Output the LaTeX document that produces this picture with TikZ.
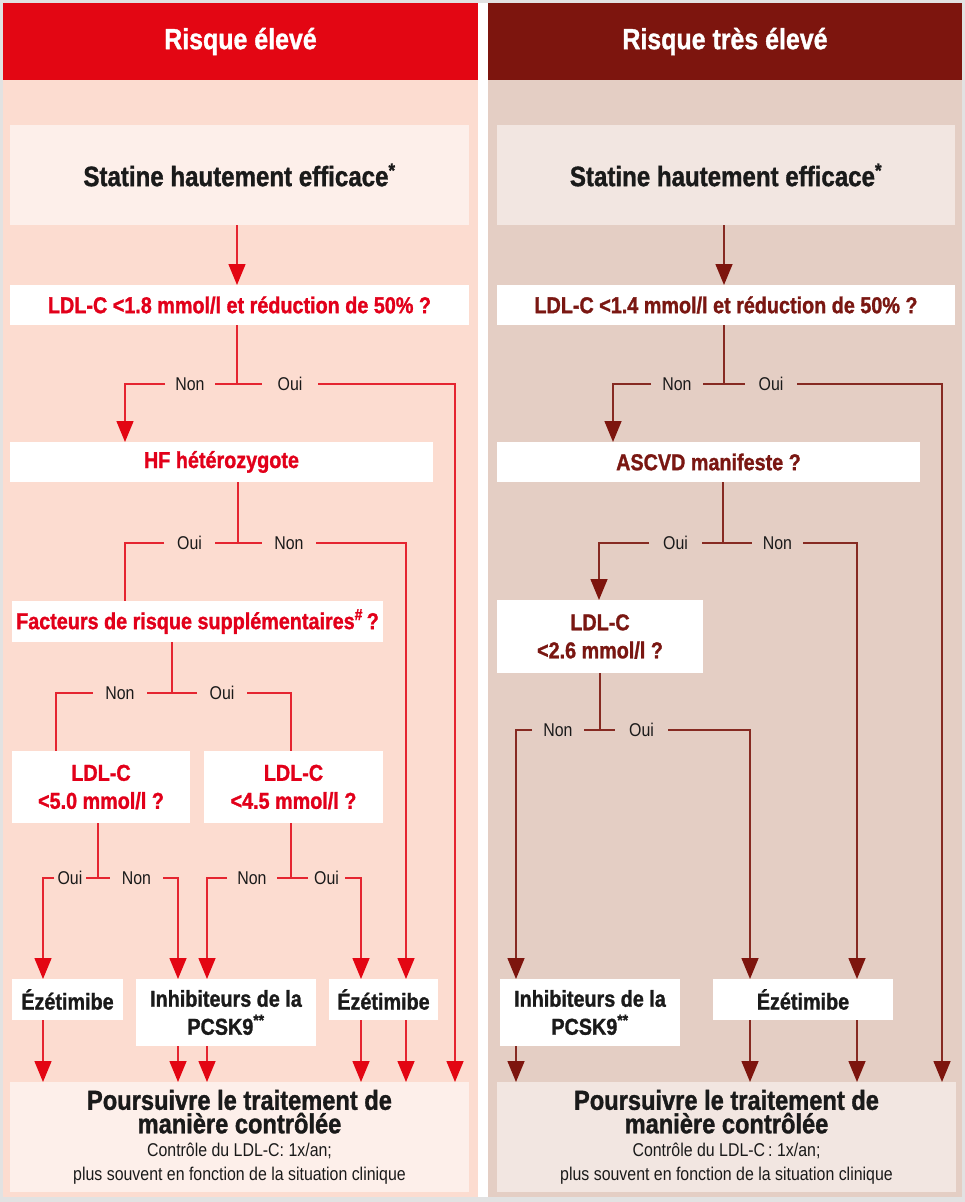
\documentclass[tikz,border=0pt]{standalone}
\usepackage{fontspec}
\setmainfont{Liberation Sans}[FakeStretch=0.86,BoldFeatures={FakeBold=1.2}]
\usetikzlibrary{arrows.meta,calc}
\definecolor{bgGray}{HTML}{E2E2E2}
\definecolor{peach}{HTML}{FCDCD0}
\definecolor{rose}{HTML}{E4CEC4}
\definecolor{lightL}{HTML}{FDEFEA}
\definecolor{lightR}{HTML}{F2E6E1}
\definecolor{redH}{HTML}{E30613}
\definecolor{darkH}{HTML}{7D150E}
\definecolor{redT}{HTML}{E2001A}
\definecolor{darkT}{HTML}{7A1712}
\definecolor{lineL}{HTML}{E52530}
\definecolor{lineR}{HTML}{862A22}
\definecolor{txt}{HTML}{1A1A1A}
\begin{document}
\begin{tikzpicture}[x=1pt,y=-1pt,
  box/.style={rectangle,inner sep=0pt,outer sep=0pt,fill=white,align=center},
  qL/.style={box,text=redT,font=\fontsize{23}{28}\selectfont\bfseries},
  qR/.style={box,text=darkT,font=\fontsize{23}{28}\selectfont\bfseries},
  tb/.style={box,text=txt,font=\fontsize{23}{28}\selectfont\bfseries},
  hdr/.style={rectangle,inner sep=0pt,outer sep=0pt,minimum width=475pt,minimum height=77pt,text=white,font=\fontsize{29}{32}\selectfont\bfseries},
  stat/.style={box,text=txt,minimum width=459pt,minimum height=100pt,font=\fontsize{28}{30}\selectfont\bfseries},
  endb/.style={box,text=txt,minimum width=459pt,minimum height=110pt,font=\fontsize{27.5}{23.5}\selectfont},
  lbl/.style={inner sep=0pt,outer sep=0pt,minimum width=#1,text height=13pt,text depth=0pt,text=txt,font=\fontsize{18.5}{20}\selectfont},
  lnL/.style={draw=lineL,line width=1.5pt},
  lnR/.style={draw=lineR,line width=1.5pt},
  arL/.style={lnL,-{Triangle[width=17pt,length=21pt,color=redH]}},
  arR/.style={lnR,-{Triangle[width=17pt,length=21pt,color=darkH]}}
]
\useasboundingbox (0,0) rectangle (965,1202);
% backgrounds
\fill[bgGray] (0,0) rectangle (965,1202);
\fill[white] (478,3) rectangle (488,1197);
\fill[peach] (3,3) rectangle (478,1197);
\fill[rose] (488,3) rectangle (962,1197);
\node[hdr,fill=redH] (hL) at (240.5,41.5) {Risque élevé};
\node[hdr,fill=darkH,minimum width=474pt] (hR) at (725,41.5) {Risque très élevé};

% ---------------- left column ----------------
\node[stat,fill=lightL] (statL) at (239.5,175) {Statine hautement efficace\textsuperscript{*}};
\node[qL,minimum width=459pt,minimum height=40pt] (q1L) at (239.5,305) {LDL-C <1.8 mmol/l et réduction de 50\% ?};
\node[qL,minimum width=423pt,minimum height=40pt] (hfL) at (221.5,462) {HF hétérozygote};
\node[qL,minimum width=371pt,minimum height=41pt] (facL) at (197.5,621.5) {Facteurs de risque supplémentaires\textsuperscript{\#}\,?};
\node[qL,minimum width=178pt,minimum height=72pt] (ldl5) at (101,787) {LDL-C\\<5.0 mmol/l ?};
\node[qL,minimum width=179pt,minimum height=72pt] (ldl45) at (293.5,787) {LDL-C\\<4.5 mmol/l ?};
\node[tb,minimum width=111pt,minimum height=41pt] (ez1) at (67.5,999.5) {Ézétimibe};
\node[tb,minimum width=180pt,minimum height=67pt] (inhL) at (226,1012.5) {Inhibiteurs de la\\PCSK9\textsuperscript{**}};
\node[tb,minimum width=109pt,minimum height=41pt] (ez2) at (383.5,999.5) {Ézétimibe};
\node[endb,fill=lightL] (endL) at (239.5,1137) {\bfseries Poursuivre le traitement de\\\bfseries manière contrôlée\\\mdseries\fontsize{18.5}{23}\selectfont Contrôle du LDL-C: 1x/an;\\\mdseries\fontsize{18.5}{23}\selectfont plus souvent en fonction de la situation clinique};

% junctions and columns (left)
\coordinate (j1) at (237,384);
\coordinate (j2) at (238,543);
\coordinate (j3) at (172,693);
\coordinate (j4) at (98,878);
\coordinate (j5) at (291,878);
\coordinate (xa) at (125,0);
\coordinate (xg) at (455,0);
\coordinate (xf) at (406,0);
\coordinate (xb) at (56,0);
\coordinate (xc) at (291,0);
\coordinate (xd) at (43,0);
\coordinate (xe) at (178,0);
\coordinate (xh) at (207,0);
\coordinate (xi) at (361,0);

\node[lbl=50pt] (nonA) at (190,384) {Non};
\node[lbl=56pt] (ouiA) at (290,384) {Oui};
\node[lbl=51pt] (ouiB) at (189.5,543) {Oui};
\node[lbl=54pt] (nonB) at (289,543) {Non};
\node[lbl=54pt] (nonC) at (120,693) {Non};
\node[lbl=50pt] (ouiC) at (222,693) {Oui};
\node[lbl=32pt] (ouiD) at (70,878) {Oui};
\node[lbl=53pt] (nonD) at (136.5,878) {Non};
\node[lbl=50pt] (nonE) at (252,878) {Non};
\node[lbl=37pt] (ouiE) at (326.5,878) {Oui};

\draw[arL] (statL.south -| j1) -- (q1L.north -| j1);
\draw[lnL] (q1L.south -| j1) -- (j1);
\draw[lnL] (nonA.east) -- (j1) -- (ouiA.west);
\draw[arL] (nonA.west) -| (hfL.north -| xa);
\draw[arL] (ouiA.east) -| (endL.north -| xg);

\draw[lnL] (hfL.south -| j2) -- (j2);
\draw[lnL] (ouiB.east) -- (j2) -- (nonB.west);
\draw[lnL] (ouiB.west) -| (facL.north -| xa);
\draw[arL] (nonB.east) -| (ez2.north -| xf);

\draw[lnL] (facL.south -| j3) -- (j3);
\draw[lnL] (nonC.east) -- (j3) -- (ouiC.west);
\draw[lnL] (nonC.west) -| (ldl5.north -| xb);
\draw[lnL] (ouiC.east) -| (ldl45.north -| xc);

\draw[lnL] (ldl5.south -| j4) -- (j4);
\draw[lnL] (ouiD.east) -- (j4) -- (nonD.west);
\draw[arL] (ouiD.west) -| (ez1.north -| xd);
\draw[arL] (nonD.east) -| (inhL.north -| xe);

\draw[lnL] (ldl45.south -| j5) -- (j5);
\draw[lnL] (nonE.east) -- (j5) -- (ouiE.west);
\draw[arL] (nonE.west) -| (inhL.north -| xh);
\draw[arL] (ouiE.east) -| (ez2.north -| xi);

\draw[arL] (ez1.south -| xd) -- (endL.north -| xd);
\draw[arL] (inhL.south -| xe) -- (endL.north -| xe);
\draw[arL] (inhL.south -| xh) -- (endL.north -| xh);
\draw[arL] (ez2.south -| xi) -- (endL.north -| xi);
\draw[arL] (ez2.south -| xf) -- (endL.north -| xf);

% ---------------- right column ----------------
\node[stat,fill=lightR,minimum width=458pt] (statR) at (726,175) {Statine hautement efficace\textsuperscript{*}};
\node[qR,minimum width=458pt,minimum height=40pt] (q1R) at (726,305) {LDL-C <1.4 mmol/l et réduction de 50\% ?};
\node[qR,minimum width=423pt,minimum height=40pt] (ascvd) at (708.5,462) {ASCVD manifeste ?};
\node[qR,minimum width=206pt,minimum height=73pt] (ldl26) at (600,636.5) {LDL-C\\<2.6 mmol/l ?};
\node[tb,minimum width=180pt,minimum height=67pt] (inhR) at (590,1012.5) {Inhibiteurs de la\\PCSK9\textsuperscript{**}};
\node[tb,minimum width=180pt,minimum height=41pt] (ezR) at (803,999.5) {Ézétimibe};
\node[endb,fill=lightR] (endR) at (726.5,1137) {\bfseries Poursuivre le traitement de\\\bfseries manière contrôlée\\\mdseries\fontsize{18.5}{23}\selectfont Contrôle du LDL-C\,: 1x/an;\\\mdseries\fontsize{18.5}{23}\selectfont plus souvent en fonction de la situation clinique};

\coordinate (k1) at (724,384);
\coordinate (k2) at (723,543);
\coordinate (k3) at (600,730);
\coordinate (ya) at (613,0);
\coordinate (yb) at (942,0);
\coordinate (yc) at (599,0);
\coordinate (yd) at (857,0);
\coordinate (ye) at (516,0);
\coordinate (yf) at (750,0);

\node[lbl=52pt] (nonR1) at (677,384) {Non};
\node[lbl=52pt] (ouiR1) at (771,384) {Oui};
\node[lbl=53pt] (ouiR2) at (675.5,543) {Oui};
\node[lbl=51pt] (nonR2) at (777.5,543) {Non};
\node[lbl=52pt] (nonR3) at (558,730) {Non};
\node[lbl=53pt] (ouiR3) at (641.5,730) {Oui};

\draw[arR] (statR.south -| k1) -- (q1R.north -| k1);
\draw[lnR] (q1R.south -| k1) -- (k1);
\draw[lnR] (nonR1.east) -- (k1) -- (ouiR1.west);
\draw[arR] (nonR1.west) -| (ascvd.north -| ya);
\draw[arR] (ouiR1.east) -| (endR.north -| yb);

\draw[lnR] (ascvd.south -| k2) -- (k2);
\draw[lnR] (ouiR2.east) -- (k2) -- (nonR2.west);
\draw[arR] (ouiR2.west) -| (ldl26.north -| yc);
\draw[arR] (nonR2.east) -| (ezR.north -| yd);

\draw[lnR] (ldl26.south -| k3) -- (k3);
\draw[lnR] (nonR3.east) -- (k3) -- (ouiR3.west);
\draw[arR] (nonR3.west) -| (inhR.north -| ye);
\draw[arR] (ouiR3.east) -| (ezR.north -| yf);

\draw[arR] (inhR.south -| ye) -- (endR.north -| ye);
\draw[arR] (ezR.south -| yf) -- (endR.north -| yf);
\draw[arR] (ezR.south -| yd) -- (endR.north -| yd);
\end{tikzpicture}
\end{document}
